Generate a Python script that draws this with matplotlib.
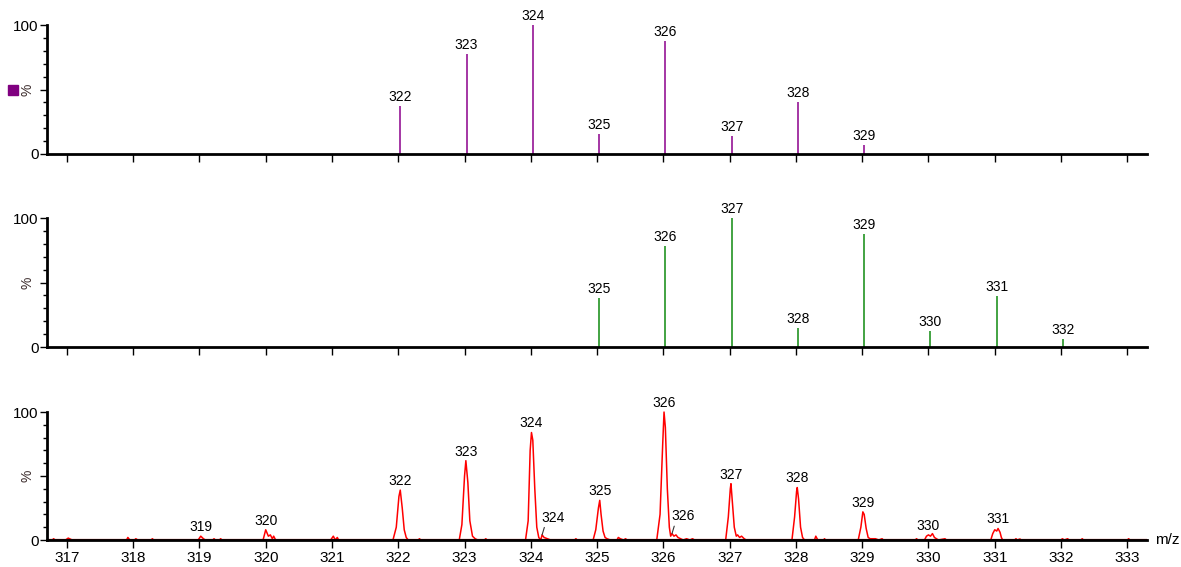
import numpy as np
import matplotlib.pyplot as plt
from matplotlib.ticker import MultipleLocator

plt.rcParams['font.family'] = ['Liberation Sans', 'DejaVu Sans']

# panel 1: sticks (purple)
mz1 = [322.03, 323.03, 324.03, 325.03, 326.03, 327.03, 328.03, 329.03]
int1 = [37, 77.5, 100, 15.5, 87.5, 14, 40, 7]

# panel 2: sticks (green)
mz2 = [325.03, 326.03, 327.03, 328.03, 329.03, 330.03, 331.03, 332.03]
int2 = [38, 78, 100, 15, 87.5, 12.5, 39.5, 6]

# panel 3: continuum profile (red)
prof_mz = [316.70, 316.78, 316.80, 316.82, 316.98, 317.02, 317.06, 317.08,
           317.90, 317.92, 317.95, 318.02, 318.04, 318.07, 318.27, 318.29, 318.31,
           318.98, 319.02, 319.06, 319.09, 319.20, 319.22, 319.24, 319.30, 319.32, 319.34,
           319.96, 320.00, 320.04, 320.07, 320.10, 320.12, 320.15,
           320.98, 321.02, 321.05, 321.08, 321.10,
           321.92, 321.97, 322.01, 322.03, 322.06, 322.09, 322.12, 322.15, 322.30, 322.32, 322.34,
           322.92, 322.96, 323.00, 323.02, 323.05, 323.08, 323.12, 323.16, 323.20, 323.30, 323.32, 323.34,
           323.92, 323.96, 323.99, 324.01, 324.03, 324.06, 324.09, 324.12, 324.15, 324.17, 324.20,
           324.25, 324.30, 324.66, 324.68, 324.70,
           324.94, 324.98, 325.02, 325.04, 325.06, 325.09, 325.12, 325.15, 325.20, 325.30, 325.32,
           325.35, 325.40, 325.43, 325.45,
           325.90, 325.95, 325.99, 326.01, 326.03, 326.06, 326.09, 326.11, 326.13, 326.16, 326.19,
           326.22, 326.26, 326.30, 326.35, 326.40, 326.44, 326.47,
           326.94, 326.98, 327.01, 327.02, 327.04, 327.07, 327.10, 327.12, 327.15, 327.18, 327.22, 327.25,
           327.94, 327.98, 328.01, 328.02, 328.04, 328.07, 328.10, 328.13, 328.28, 328.30, 328.33,
           328.42, 328.43, 328.45,
           328.94, 328.98, 329.01, 329.03, 329.06, 329.09, 329.12, 329.20, 329.25, 329.30, 329.32,
           329.80, 329.82, 329.84, 329.94, 329.97, 330.00, 330.03, 330.06, 330.09, 330.12, 330.15,
           330.25, 330.27,
           330.94, 330.97, 331.00, 331.03, 331.05, 331.08, 331.10, 331.12, 331.30, 331.32, 331.34,
           331.38, 331.40,
           332.00, 332.02, 332.05, 332.10, 332.12, 332.30, 332.32, 332.34, 333.00, 333.02, 333.04, 333.30]
prof_int = [0, 0, 1, 0, 0, 1.5, 0.5, 0,
            0, 2, 0, 0, 1, 0, 0, 1, 0,
            0, 3, 1, 0, 0, 1, 0, 0, 1, 0,
            0, 8, 3, 4, 1, 3, 0,
            0, 3, 0, 2, 0,
            0, 10, 34, 39, 25, 8, 2, 0, 0, 1, 0,
            0, 12, 50, 62, 45, 15, 3, 1, 0, 0, 1, 0,
            0, 15, 70, 84, 78, 40, 10, 2, 0, 4, 2,
            1, 0, 0, 1, 0,
            0, 8, 25, 31, 20, 7, 2, 1, 0, 0, 2,
            1, 0, 1, 0,
            0, 20, 75, 100, 88, 40, 10, 3, 5, 3, 4,
            2, 1, 0, 1, 0, 1, 0,
            0, 18, 40, 44, 30, 10, 3, 4, 2, 3, 1, 0,
            0, 18, 38, 41, 32, 10, 2, 0, 0, 3, 0,
            0, 1, 0,
            0, 10, 22, 20, 9, 2, 1, 1, 0, 1, 0,
            0, 1, 0, 0, 3, 4, 3, 5, 2, 1, 0,
            1, 0,
            0, 5, 8, 7, 9, 6, 2, 0, 0, 1, 0,
            0.8, 0,
            0, 1, 0, 1, 0, 0, 1, 0, 0, 1, 0, 0]

# labelled peaks in the profile
lab3_mz = [319.02, 320.00, 322.03, 323.02, 324.01, 325.04, 326.01, 327.02, 328.02, 329.01, 330.0, 331.05]
lab3_int = [3, 8, 39, 62, 84, 31, 100, 44, 41, 22, 4, 9]
lab3_txt = ['319', '320', '322', '323', '324', '325', '326', '327', '328', '329', '330', '331']
# small shoulder labels with leader lines
sub_mz = [324.17, 326.13]
sub_int = [4, 5]
sub_txt = ['324', '326']

xmin, xmax = 316.70, 333.29
xticks = list(range(317, 334))

fig = plt.figure(figsize=(11.81, 5.67), dpi=100)
left, width = 0.0398, 0.931
ax1 = fig.add_axes([left, 0.7284, width, 0.2275])
ax2 = fig.add_axes([left, 0.3880, width, 0.2275])
ax3 = fig.add_axes([left, 0.0476, width, 0.2257])

for ax in (ax1, ax2, ax3):
    ax.set_xlim(xmin, xmax)
    ax.set_ylim(0, 100)
    for s in ['top', 'right']:
        ax.spines[s].set_visible(False)
    ax.spines['left'].set_linewidth(2)
    ax.spines['bottom'].set_linewidth(2)
    ax.set_xticks(xticks)
    ax.set_yticks([0, 50, 100])
    ax.set_yticklabels(['0', '', '100'])
    ax.yaxis.set_minor_locator(MultipleLocator(10))
    ax.tick_params(axis='y', which='major', length=5, width=1, labelsize=11, pad=1)
    ax.tick_params(axis='y', which='minor', length=3, width=1)
    ax.tick_params(axis='x', which='major', length=6, width=1, labelsize=11, pad=2)
    ax.text(-0.018, 0.5, '%', transform=ax.transAxes, rotation=90,
            ha='center', va='center', fontsize=10, color='#3a2a2a')
    ax.patch.set_visible(False)

ax1.set_xticklabels([])
ax2.set_xticklabels([])

ax1.vlines(mz1, 0, int1, color='#8b008b', linewidth=1.1)
for m, v in zip(mz1, int1):
    ax1.annotate(str(round(m)), (m, v), xytext=(0, 1.5), textcoords='offset points',
                 ha='center', va='bottom', fontsize=10, annotation_clip=False)
ax1.plot([-0.031], [0.5], marker='s', color='#800080', markersize=7,
         transform=ax1.transAxes, clip_on=False)

ax2.vlines(mz2, 0, int2, color='#108a10', linewidth=1.1)
for m, v in zip(mz2, int2):
    ax2.annotate(str(round(m)), (m, v), xytext=(0, 1.5), textcoords='offset points',
                 ha='center', va='bottom', fontsize=10, annotation_clip=False)

ax3.plot(prof_mz, prof_int, color='#ff0000', linewidth=1.1, clip_on=False)
ax3.axhline(0, color='#8b0000', linewidth=1.6)
for m, v, t in zip(lab3_mz, lab3_int, lab3_txt):
    ax3.annotate(t, (m, v), xytext=(0, 1.5), textcoords='offset points',
                 ha='center', va='bottom', fontsize=10, annotation_clip=False)
for m, v, t in zip(sub_mz, sub_int, sub_txt):
    ax3.annotate(t, (m, v), xytext=(m + 0.17, v + 8), textcoords='data',
                 ha='center', va='bottom', fontsize=10,
                 arrowprops=dict(arrowstyle='-', color='#333333', lw=0.8, shrinkA=0, shrinkB=0,
                                 relpos=(0.15, 0.0)))
ax3.text(1.008, 0.0, 'm/z', transform=ax3.transAxes, ha='left', va='center', fontsize=11)

fig.savefig('out.png', dpi=100)
